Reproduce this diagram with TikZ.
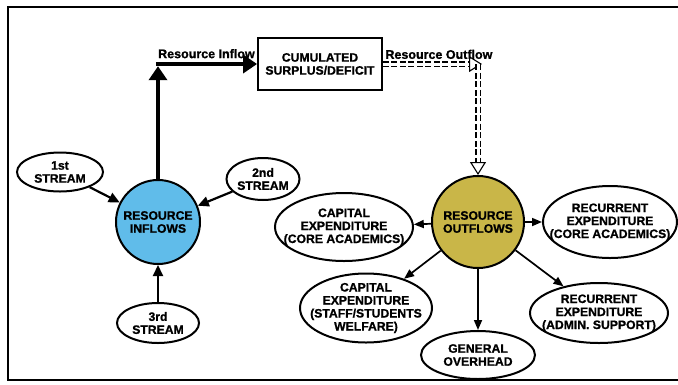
\documentclass[tikz,border=0pt]{standalone}
\usepackage{fontspec}
\setmainfont{Liberation Sans}[BoldFeatures={FakeBold=1}]
\usetikzlibrary{arrows.meta,positioning,shapes.geometric}

\definecolor{inblue}{RGB}{96,188,234}
\definecolor{outgold}{RGB}{201,182,72}

\begin{document}
\begin{tikzpicture}[
    x=1pt, y=-1pt, on grid,
    font=\bfseries\fontsize{12.2}{13}\selectfont,
    hub/.style={circle, draw=black, line width=2pt, align=center, inner sep=0pt},
    oval/.style={ellipse, draw=black, line width=2pt, inner sep=0pt},
    every label/.style={align=center, inner sep=0pt},
    total/.style={rectangle, draw=black, line width=1.8pt, align=center, minimum width=124pt, minimum height=52pt, inner sep=0pt},
    inflow/.style={draw=black, line width=4.5pt, -{Triangle[length=14pt, width=18pt]}},
    outflow/.style={draw=black, line width=1.1pt, dash pattern=on 6pt off 2.5pt, double, double distance=3pt, -{Triangle[open, length=13pt, width=16pt]}},
    feed/.style={draw=black, line width=2.2pt, -{Triangle[length=11pt, width=10pt]}},
    spend/.style={draw=black, line width=1.7pt, -{Triangle[length=10pt, width=8pt]}},
    flowlabel/.style={font=\bfseries\fontsize{12.5}{14}\selectfont, inner sep=2pt}
]
\useasboundingbox (0,0) rectangle (678,384);
\draw[line width=2.5pt] (678,7) -- (8,7) -- (8,380) -- (678,380);

\node[hub, fill=inblue, minimum size=84pt] (inflows) at (158,222) {RESOURCE\\INFLOWS};
\node[hub, fill=outgold, minimum size=92pt, right=320pt of inflows] (outflows) {RESOURCE\\OUTFLOWS};
\node[total] (surplus) at (320,64) {CUMULATED\\SURPLUS/DEFICIT};

% streams into the inflows
\node[oval, minimum width=86pt, minimum height=39pt, above left=50pt and 98pt of inflows, label={center:1st\\STREAM}] (first) {};
\node[oval, minimum width=73pt, minimum height=42pt, above right=43pt and 105pt of inflows, label={center:2nd\\STREAM}] (second) {};
\node[oval, minimum width=82pt, minimum height=40pt, below=101pt of inflows, label={center:3rd\\STREAM}] (third) {};

% spending out of the outflows
\node[oval, minimum width=138pt, minimum height=68pt, below left=5pt and 134pt of outflows, label={center:CAPITAL\\EXPENDITURE\\(CORE ACADEMICS)}] (capcore) {};
\node[oval, minimum width=134pt, minimum height=72pt, right=132pt of outflows, label={center:RECURRENT\\EXPENDITURE\\(CORE ACADEMICS)}] (reccore) {};
\node[oval, minimum width=132pt, minimum height=69pt, below left=86pt and 112pt of outflows, label={center:CAPITAL\\EXPENDITURE\\(STAFF/STUDENTS\\WELFARE)}] (capstaff) {};
\node[oval, minimum width=114pt, minimum height=48pt, below=133pt of outflows, label={center:GENERAL\\OVERHEAD}] (overhead) {};
\node[oval, minimum width=138pt, minimum height=60pt, below right=91pt and 121pt of outflows, label={center:RECURRENT\\EXPENDITURE\\(ADMIN. SUPPORT)}] (recadmin) {};

\coordinate (inturn) at (inflows |- surplus.west);
\coordinate (outturn) at (outflows |- surplus.east);

\draw[inflow] (inflows) -- ([yshift=-2.2pt]inturn);
\draw[inflow] ([xshift=-2.2pt]inturn) -- node[flowlabel, above, yshift=1.5pt] {Resource Inflow} (surplus);
\draw[outflow] (surplus) -- node[flowlabel, pos=0, above right, yshift=2.5pt] {Resource Outflow} ([xshift=4pt]outturn);
\draw[outflow] (outturn) -- (outflows);

\draw[feed] (first) -- (inflows);
\draw[feed] (second) -- (inflows);
\draw[feed] (third) -- (inflows);

\draw[spend] (outflows) -- (capcore);
\draw[spend] (outflows) -- (reccore);
\draw[spend] (outflows) -- (capstaff);
\draw[spend] (outflows) -- (overhead);
\draw[spend] (outflows) -- (recadmin);
\end{tikzpicture}
\end{document}
